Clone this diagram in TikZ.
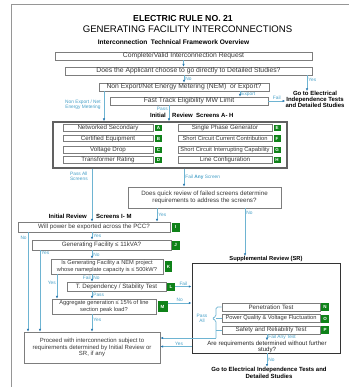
\documentclass[tikz,border=0pt]{standalone}
\usepackage{fontspec}
\setmainfont{Liberation Sans}
\usetikzlibrary{arrows.meta,calc}
\definecolor{lineblue}{RGB}{110,180,210}
\definecolor{headblue}{RGB}{40,120,175}
\definecolor{lblblue}{RGB}{70,160,200}
\definecolor{boxgray}{RGB}{125,125,125}
\definecolor{gbox}{RGB}{15,130,25}
\definecolor{framegray}{RGB}{150,150,150}
\newcommand\fsz[2]{\fontsize{#1}{#2}\selectfont}
\tikzset{
 box/.style={draw=boxgray, line width=0.6pt, fill=white, text=black!78, inner sep=0pt, align=center, font=\fsz{6.2}{6.6}},
 topbox/.style={box, font=\fsz{6.8}{7.2}, minimum height=8},
 sbox/.style={box, minimum height=6.5},
 grn/.style={fill=gbox, text=white, inner sep=0pt, font=\bfseries\fsz{4.5}{5}},
 lbl/.style={text=lblblue, inner sep=1pt, font=\fsz{4.8}{5.3}, align=center},
 hd/.style={inner sep=0pt, font=\bfseries\fsz{6}{6.6}},
 gobold/.style={inner sep=0pt, align=center, font=\bfseries\fsz{6}{5.4}},
 arr/.style={draw=lineblue, line width=0.7pt, -{Latex[length=2.8pt,width=2.4pt,color=headblue]}},
 ln/.style={draw=lineblue, line width=0.7pt},
}
\begin{document}
\begin{tikzpicture}[x=1pt,y=-1pt]
\useasboundingbox (0,0) rectangle (349,387);
\fill[white] (0,0) rectangle (349,387);
\draw[framegray, line width=1.3pt] (11.5,387) -- (11.5,4.5) -- (349,4.5);

% titles
\node[inner sep=0pt, anchor=base, font=\bfseries\fsz{8.7}{10}] (t1) at (183,22) {ELECTRIC RULE NO. 21};
\node[inner sep=0pt, anchor=base, font=\fsz{9.6}{11}] (t2) at (187.5,33) {GENERATING FACILITY INTERCONNECTIONS};
\node[inner sep=0pt, anchor=base, font=\bfseries\fsz{6.6}{8}] (t3) at (173.5,45) {Interconnection\ \ Technical Framework Overview};

% top boxes
\node[topbox, minimum width=257] (b1) at (183.5,56) {Complete/Valid Interconnection Request};
\node[topbox, minimum width=247] (b2) at (188.5,71) {Does the Applicant choose to go directly to Detailed Studies?};
\node[topbox, minimum width=170] (b3) at (184,87) {Non Export/Net Energy Metering (NEM)\ \ or Export?};
\node[topbox, minimum width=158] (b4) at (189,101) {Fast Track Eligibility MW Limit};
\node[gobold] (g1) at (315,99.5) {Go to Electrical\\Independence Tests\\and Detailed Studies};

\draw[arr] (b1.south) -- (b1.south |- b2.north);
\draw[arr] (b2.south -| b3.north) -- (b3.north) node[lbl, midway, right]{No};
\draw[arr] ([xshift=118.5pt]b2.south) -- ([xshift=118.5pt]b2.south |- g1.north) node[lbl, pos=0.3, right]{Yes};
\draw[arr] ([xshift=56pt]b3.south) -- ([xshift=56pt]b3.south |- b4.north) node[lbl, midway, right]{Export};
\draw[arr] (b4.east) -- (b4.east -| g1.west) node[lbl, midway, above]{Fail};

% screens A-H
\node[draw=black!62, line width=1.5pt, minimum width=234, minimum height=46, inner sep=0pt] (scr) at (170,145) {};
\node[hd, anchor=base east] (hA1) at (166,118) {Initial};
\node[hd, anchor=base west] (hA2) at (172,118) {Review\ \ Screens A- H};
\draw[arr] ([xshift=-20pt]b4.south) -- ([xshift=-20pt]b4.south |- scr.north) node[lbl, pos=0.2, left]{Pass};
\draw[arr] ([xshift=-80pt]b3.south) -- ([xshift=-80pt]b3.south |- scr.north) node[lbl, pos=0.45, left=2pt]{Non Export / Net\\Energy Metering};

\node[sbox, minimum width=90] (sA) at (108,128) {Networked Secondary};
\node[sbox, minimum width=90] (sB) at (108,138.5) {Certified Equipment};
\node[sbox, minimum width=90] (sC) at (108,150) {Voltage Drop};
\node[sbox, minimum width=90] (sD) at (108,160) {Transformer Rating};
\node[grn, minimum width=7, minimum height=6.5] (gA) at (158.5,128) {A};
\node[grn, minimum width=7, minimum height=6.5] (gB) at (158.5,138.5) {B};
\node[grn, minimum width=7, minimum height=6.5] (gC) at (158.5,150) {C};
\node[grn, minimum width=7, minimum height=6.5] (gD) at (158.5,160) {D};
\node[sbox, minimum width=94] (sE) at (225,128) {Single Phase Generator};
\node[sbox, minimum width=94, font=\fsz{5.75}{6}] (sF) at (225,138.5) {Short Circuit Current Contribution};
\node[sbox, minimum width=94, font=\fsz{5.75}{6}] (sG) at (225,150) {Short Circuit Interrupting Capability};
\node[sbox, minimum width=94] (sH) at (225,160) {Line Configuration};
\node[grn, minimum width=7, minimum height=6.5] (gE) at (277,128) {E};
\node[grn, minimum width=7, minimum height=6.5] (gF) at (277,138.5) {F};
\node[grn, minimum width=7, minimum height=6.5] (gG) at (277,150) {G};
\node[grn, minimum width=7, minimum height=6.5] (gH) at (277,160) {H};

% quick review
\node[box, minimum width=153, minimum height=21] (qr) at (204.5,197.5) {Does quick review of failed screens determine\\requirements to address the screens?};
\draw[arr] ([xshift=14pt]scr.south) -- ([xshift=14pt]scr.south |- qr.north) node[lbl, midway, right]{Fail \textbf{Any} Screen};

% screens I-M
\node[hd, anchor=base east] (hI1) at (87,218) {Initial Review};
\node[hd, anchor=base west] (hI2) at (96,218) {Screens I- M};
\node[box, minimum width=152, minimum height=10] (bI) at (94,227) {Will power be exported across the PCC?};
\node[grn, minimum width=8, minimum height=9] (gI) at (175.5,227) {I};
\node[box, minimum width=139, minimum height=10] (bJ) at (101.5,245) {Generating Facility ≤ 11kVA?};
\node[grn, minimum width=8, minimum height=9] (gJ) at (175.5,245) {J};
\node[box, minimum width=112, minimum height=15, font=\fsz{5.7}{6.3}] (bK) at (107,266.5) {Is Generating Facility a NEM project\\whose nameplate capacity is ≤ 500kW?};
\node[grn, minimum width=7, minimum height=11] (gK) at (168.5,266.5) {K};
\node[box, minimum width=99, minimum height=9] (bL) at (116.5,286.5) {T. Dependency / Stability Test};
\node[grn, minimum width=8, minimum height=8] (gL) at (171,286.5) {L};
\node[box, minimum width=104, minimum height=15, font=\fsz{5.7}{6.3}] (bM) at (104,306.5) {Aggregate generation ≤ 15\% of line\\section peak load?};
\node[grn, minimum width=10, minimum height=11] (gM) at (162.5,306.5) {M};
\node[box, minimum width=136, minimum height=31, font=\fsz{6}{6.2}] (pr) at (92,347.5) {Proceed with interconnection subject to\\requirements determined by Initial Review or\\SR, if any};

\draw[arr] ([xshift=-78pt]scr.south) -- ([xshift=-78pt]scr.south |- bI.north) node[lbl, pos=0.14, left=3pt]{Pass All\\Screens};

% supplemental review
\node[hd, font=\bfseries\fsz{5.8}{6.4}] (srh) at (266,259) {Supplemental Review (SR)};
\node[draw=black!80, line width=0.9pt, minimum width=148, minimum height=90, inner sep=0pt] (sr) at (266,308) {};
\draw[arr] ([xshift=-47.5pt]qr.south) -- ([xshift=-47.5pt]qr.south |- bI.north) node[lbl, midway, right]{Yes};
\draw[arr] ([xshift=40.5pt]qr.south) -- ([xshift=40.5pt]qr.south |- srh.north) node[lbl, pos=0.1, right]{No};

\draw[arr] ([xshift=-2pt]bI.south) -- ([xshift=-2pt]bI.south |- bJ.north) node[lbl, midway, right]{Yes};
\draw[arr] ([xshift=-66pt]bI.south) -- ([xshift=-66pt]bI.south |- pr.north) node[lbl, pos=0.06, left]{No};
\draw[arr] ([xshift=-61.5pt]bJ.south) -- ([xshift=-61.5pt]bJ.south |- pr.north) node[lbl, pos=0.03, right]{Yes};
\draw[arr] ([xshift=-9.5pt]bJ.south) -- ([xshift=-9.5pt]bJ.south |- bK.north) node[lbl, midway, right]{No};
\draw[arr] ([xshift=-15pt]bK.south) -- ([xshift=-15pt]bK.south |- bL.north) node[lbl, midway, right]{No} node[lbl, midway, left]{Fail};
\draw[arr] ([xshift=-50pt]bK.south) -- ([xshift=-50pt]bK.south |- bM.north) node[lbl, pos=0.36, left]{Yes};
\draw[arr] ([xshift=-24.5pt]bL.south) -- ([xshift=-24.5pt]bL.south |- bM.north) node[lbl, midway, right]{Pass};
\draw[arr] ([xshift=-12pt]bM.south) -- ([xshift=-12pt]bM.south |- pr.north) node[lbl, pos=0.33, right]{Yes};
\draw[arr] (gL.east) -- (gL.east -| sr.west) node[lbl, midway, above]{Fail};
\draw[arr] ([yshift=3.5pt]gM.east) -- ([yshift=3.5pt]gM.east -| sr.west) node[lbl, midway, above]{No};

\node[box, minimum width=98, minimum height=8] (nN) at (271,307) {Penetration Test};
\node[box, minimum width=98, minimum height=8, font=\fsz{5.7}{6}] (nO) at (271,318.5) {Power Quality \& Voltage Fluctuation};
\node[box, minimum width=98, minimum height=8] (nP) at (271,330) {Safety and Reliability Test};
\node[grn, minimum width=8, minimum height=8] (gN) at (325,307) {N};
\node[grn, minimum width=8, minimum height=8] (gO) at (325,318.5) {O};
\node[grn, minimum width=8, minimum height=8] (gP) at (325,330) {P};

\coordinate (pa) at (216,338);
\draw[ln, rounded corners=1.5pt] (nN.west) -| (216,316.5) -- (212,318.5) -- (216,320.5) -- (pa);
\draw[ln] (nO.west) -- (216,318.5);
\draw[ln] (nP.west) -- (nP.west -| pa);
\draw[arr] (pa) -- (pa -| pr.east);
\node[lbl] (pall) at (202,318) {Pass\\All};

\node[inner sep=0pt, align=center, text=black!85, font=\fsz{6.1}{6}] (aq) at (267,346.5) {Are requirements determined without further\\study?};
\draw[arr] ([xshift=-4pt]nP.south) -- ([xshift=-4pt]nP.south |- aq.north) node[lbl, midway, right]{Fail Any Test};
\draw[arr] (aq.west -| sr.west) -- (aq.west -| pr.east) node[lbl, pos=0.4, above]{Yes};

\node[gobold, font=\bfseries\fsz{6}{7.5}] (gb) at (269,373) {Go to Electrical Independence Tests and\\Detailed Studies};
\draw[arr] ([xshift=1pt]sr.south) -- ([xshift=1pt]sr.south |- gb.north) node[lbl, midway, right]{No};
\end{tikzpicture}
\end{document}
